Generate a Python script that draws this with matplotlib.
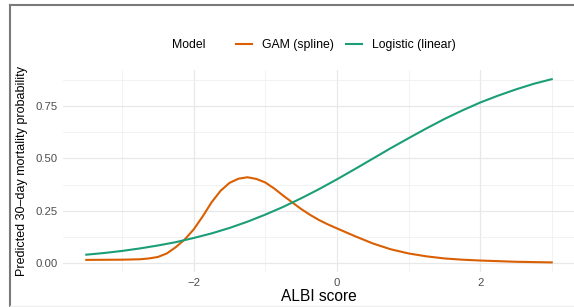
import matplotlib
matplotlib.use("Agg")
import matplotlib.pyplot as plt
from matplotlib.lines import Line2D

plt.rcParams['font.family'] = ['Liberation Sans', 'DejaVu Sans']

# curvas
albi_gam = [-3.5, -3.0, -2.75, -2.625, -2.5, -2.375, -2.25, -2.125, -2.0, -1.875,
            -1.75, -1.625, -1.5, -1.375, -1.25, -1.125, -1.0, -0.875, -0.75, -0.625,
            -0.5, -0.375, -0.25, -0.125, 0.0, 0.25, 0.5, 0.75, 1.0, 1.25,
            1.5, 1.75, 2.0, 2.5, 3.0]
prob_gam = [0.014, 0.015, 0.017, 0.021, 0.028, 0.045, 0.075, 0.112, 0.16, 0.222,
            0.29, 0.345, 0.383, 0.403, 0.41, 0.402, 0.385, 0.356, 0.322, 0.29,
            0.258, 0.23, 0.205, 0.184, 0.165, 0.128, 0.093, 0.065, 0.045, 0.031,
            0.021, 0.015, 0.011, 0.005, 0.002]

albi_log = [-3.5, -3.25, -3.0, -2.75, -2.5, -2.25, -2.0, -1.75, -1.5, -1.25,
            -1.0, -0.75, -0.5, -0.25, 0.0, 0.25, 0.5, 0.75, 1.0, 1.25,
            1.5, 1.75, 2.0, 2.25, 2.5, 2.75, 3.0]
prob_log = [0.039, 0.047, 0.057, 0.069, 0.083, 0.099, 0.119, 0.141, 0.167, 0.197,
            0.231, 0.268, 0.309, 0.353, 0.40, 0.449, 0.499, 0.549, 0.597, 0.644,
            0.689, 0.730, 0.768, 0.801, 0.831, 0.858, 0.880]

etiquetas = ["GAM (spline)", "Logistic (linear)"]
colores = ["#D95F02", "#1B9E77"]

fig = plt.figure(figsize=(5.74, 3.07), dpi=100)
ax = fig.add_axes([63 / 574, 35 / 307, 512 / 574, 202 / 307])

ax.plot(albi_gam, prob_gam, color=colores[0], lw=1.5, label=etiquetas[0])
ax.plot(albi_log, prob_log, color=colores[1], lw=1.5, label=etiquetas[1])

ax.set_xlim(-3.825, 3.325)
ax.set_ylim(-0.044, 0.924)
ax.set_xticks([-2, 0, 2])
ax.set_xticks([-3, -1, 1, 3], minor=True)
ax.set_yticks([0, 0.25, 0.5, 0.75])
ax.set_yticklabels(["0.00", "0.25", "0.50", "0.75"])
ax.set_yticks([0.125, 0.375, 0.625, 0.875], minor=True)
ax.grid(True, which="major", color="#E8E8E8", lw=0.9)
ax.grid(True, which="minor", color="#F0F0F0", lw=0.6)
ax.set_axisbelow(True)
for s in ax.spines.values():
    s.set_visible(False)
ax.tick_params(which="both", length=0, labelsize=8.2, labelcolor="#4D4D4D", pad=4)

ax.set_xlabel("ALBI score", fontsize=11.2, labelpad=1)
ax.set_ylabel("Predicted 30\u2013day mortality probability", fontsize=9, labelpad=5)

# leyenda arriba
fig.text(172 / 574, 1 - 45 / 307, "Model", fontsize=8.8, va="center", ha="left")
fig.legend(loc="center left", bbox_to_anchor=(236 / 574, 1 - 45 / 307), ncol=2,
           frameon=False, fontsize=8.8, handlelength=1.3, handletextpad=0.8,
           columnspacing=1.05, borderpad=0, borderaxespad=0)

# marco gris de la captura
fig.add_artist(Line2D([9.5 / 574, 1], [1 - 4.5 / 307, 1 - 4.5 / 307],
                      transform=fig.transFigure, color="#7A7A7A", lw=1.5))
fig.add_artist(Line2D([9.5 / 574, 9.5 / 574], [0, 1 - 4.5 / 307],
                      transform=fig.transFigure, color="#7A7A7A", lw=1.5))
fig.add_artist(Line2D([9.5 / 574, 1], [1.5 / 307, 1.5 / 307],
                      transform=fig.transFigure, color="#EEEEEE", lw=1))

fig.savefig("out.png", dpi=100)
